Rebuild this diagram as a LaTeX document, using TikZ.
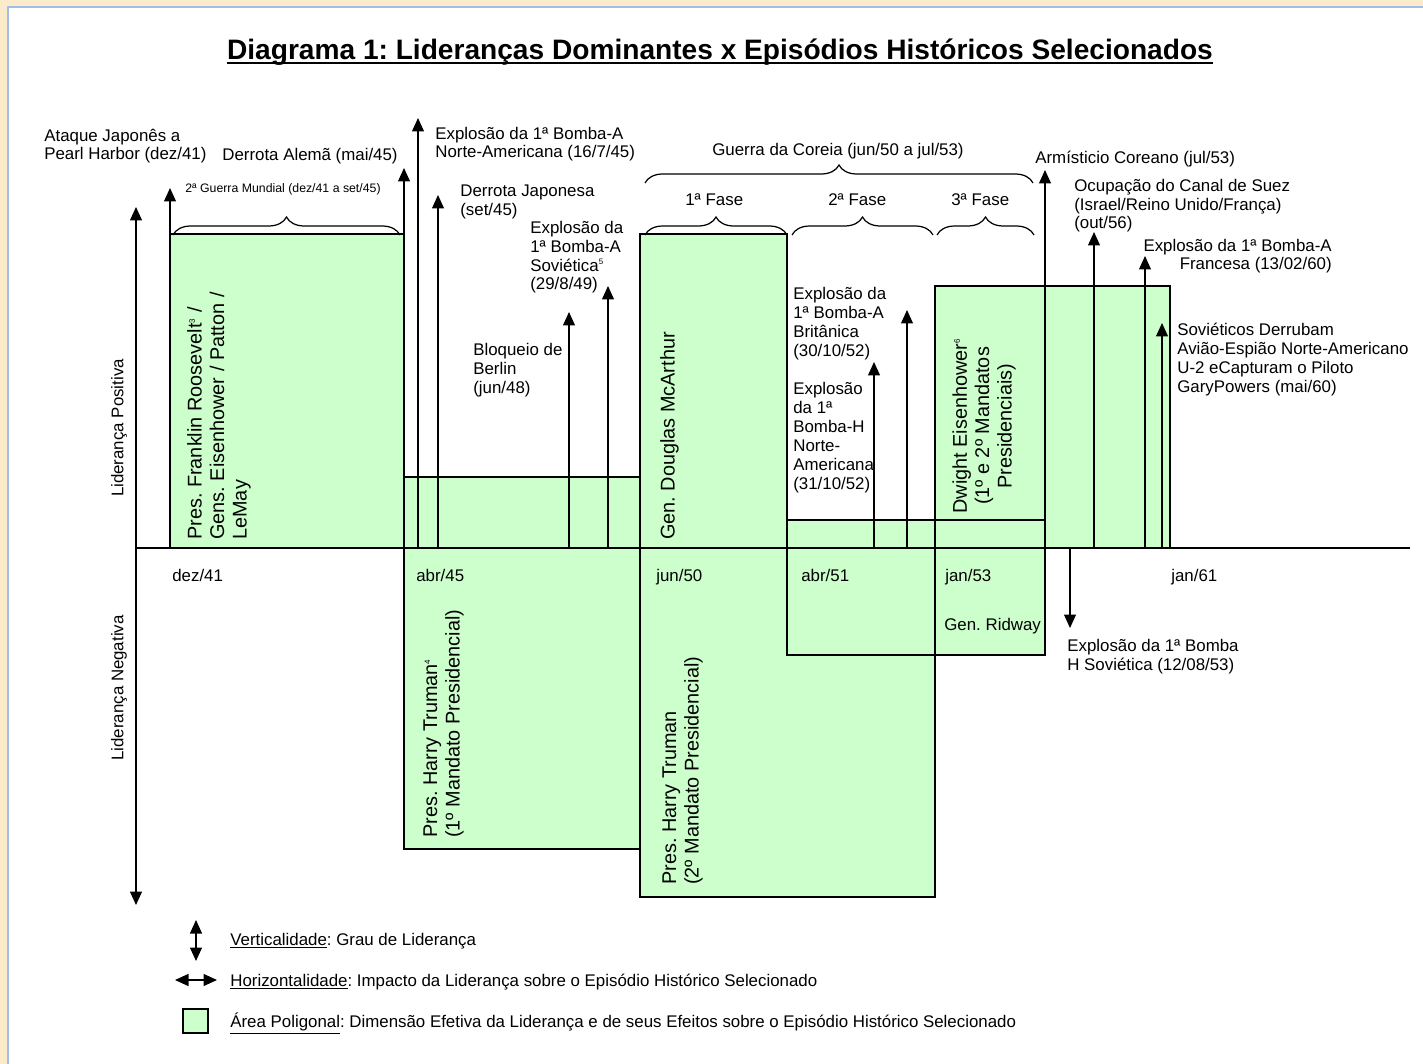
\documentclass[tikz,border=0pt]{standalone}
\usepackage{fontspec}
\setmainfont{Liberation Sans}
\usepackage{tikz}
\usetikzlibrary{arrows.meta,decorations.pathreplacing}
\usepackage{xcolor}
\definecolor{leadgreen}{HTML}{CCFFCC}
\definecolor{framecream}{HTML}{FCEBCB}
\definecolor{frameblue}{HTML}{A3BDEB}
\newcommand{\refmark}[1]{\textsuperscript{\fontsize{4.5}{5}\selectfont #1}}
\frenchspacing

\begin{document}
\begin{tikzpicture}[
    x=0.02cm, y=-0.02cm,
    >={Triangle[width=0.24cm,length=0.27cm]},
    area/.style={fill=leadgreen},
    boxline/.style={draw, line width=0.7pt},
    arrow/.style={->, line width=0.7pt},
    evt/.style={font=\fontsize{9.6}{10.8}\selectfont, align=left, inner sep=0pt, anchor=base west},
    tick/.style={font=\fontsize{9.6}{10.8}\selectfont, inner sep=0pt, anchor=base west},
    leader/.style={font=\fontsize{11.3}{12.8}\selectfont, align=left, inner sep=0pt, rotate=90, anchor=north west},
    period/.style={decorate, decoration={brace, amplitude=0.36cm}, line width=0.7pt},
    legtext/.style={font=\fontsize{9.6}{10.8}\selectfont, inner sep=0pt, anchor=base west}
]
\useasboundingbox (0,0) rectangle (1423,1064);

% ---- Frame ----
\fill[framecream] (0,0) rectangle (1423,1064);
\fill[white] (8,7) rectangle (1423,1064);
\draw[frameblue, line width=1pt] (8,1064) -- (8,7) -- (1423,7);

% ---- Title ----
\node[font=\bfseries\fontsize{16}{19}\selectfont, inner sep=0pt, anchor=base] (title) at (720,60)
    {Diagrama 1: Lideranças Dominantes x Episódios Históricos Selecionados};
\draw[line width=0.8pt] ([yshift=-1.6pt]title.base west) -- ([yshift=-1.6pt]title.base east);

% ---- Leadership areas (fill first, borders after) ----
\fill[area] (170,234) rectangle (404,548);  % Roosevelt
\fill[area] (404,477) rectangle (640,849);  % Truman 1
\fill[area] (640,234) rectangle (787,548);  % McArthur
\fill[area] (640,548) rectangle (935,897);  % Truman 2
\fill[area] (787,520) rectangle (1045,655); % Ridway
\fill[area] (935,286) rectangle (1170,548); % Eisenhower
\draw[boxline] (170,234) rectangle (404,548);
\draw[boxline] (404,477) rectangle (640,849);
\draw[boxline] (640,234) rectangle (787,548);
\draw[boxline] (640,548) rectangle (935,897);
\draw[boxline] (787,520) rectangle (1045,655);
\draw[boxline] (935,286) rectangle (1170,548);

% ---- Axes ----
\coordinate (origin) at (136,548);
\coordinate (xend) at (1410,548);
\coordinate (ytop) at (136,207);
\coordinate (ybot) at (136,905);
\draw[boxline] (origin) -- (xend);
\draw[arrow, <->] (ytop) -- (ybot);
\node[tick, rotate=90, anchor=center] (pos) at (119,428) {Liderança Positiva};
\node[tick, rotate=90, anchor=center] (neg) at (119,688) {Liderança Negativa};

% ---- Dates ----
\node[tick] (d41) at (172,581) {dez/41};
\node[tick] (d45) at (416,581) {abr/45};
\node[tick] (d50) at (656,581) {jun/50};
\node[tick] (d51) at (801,581) {abr/51};
\node[tick] (d53) at (945,581) {jan/53};
\node[tick] (d61) at (1171,581) {jan/61};

% ---- Event arrows ----
\coordinate (pearl-b) at (170,548);  \coordinate (pearl-t) at (170,188);
\coordinate (alema-b) at (404,548);  \coordinate (alema-t) at (404,168);
\coordinate (bna-b) at (418,548);    \coordinate (bna-t) at (418,118);
\coordinate (jap-b) at (438,548);    \coordinate (jap-t) at (438,195);
\coordinate (berlin-b) at (569,548); \coordinate (berlin-t) at (569,312);
\coordinate (sova-b) at (608,548);   \coordinate (sova-t) at (608,286);
\coordinate (hbomb-b) at (874,548);  \coordinate (hbomb-t) at (874,362);
\coordinate (brit-b) at (907,548);   \coordinate (brit-t) at (907,310);
\coordinate (armis-b) at (1045,548); \coordinate (armis-t) at (1045,170);
\coordinate (sovh-b) at (1070,548);  \coordinate (sovh-t) at (1070,628);
\coordinate (suez-b) at (1094,548);  \coordinate (suez-t) at (1094,232);
\coordinate (fran-b) at (1145,548);  \coordinate (fran-t) at (1145,256);
\coordinate (u2-b) at (1162,548);    \coordinate (u2-t) at (1162,323);
\draw[arrow] (pearl-b) -- (pearl-t);
\draw[arrow] (alema-b) -- (alema-t);
\draw[arrow] (bna-b) -- (bna-t);
\draw[arrow] (jap-b) -- (jap-t);
\draw[arrow] (berlin-b) -- (berlin-t);
\draw[arrow] (sova-b) -- (sova-t);
\draw[arrow] (hbomb-b) -- (hbomb-t);
\draw[arrow] (brit-b) -- (brit-t);
\draw[arrow] (armis-b) -- (armis-t);
\draw[arrow] (sovh-b) -- (sovh-t);
\draw[arrow] (suez-b) -- (suez-t);
\draw[arrow] (fran-b) -- (fran-t);
\draw[arrow] (u2-b) -- (u2-t);

% ---- Periods ----
\draw[period] (173,235) -- (400,235);
\draw[period] (645,183) -- (1033,183);
\draw[period] (645,235) -- (787,235);
\draw[period] (792,235) -- (933,235);
\draw[period] (937,235) -- (1034,235);
\node[evt, font=\fontsize{7}{8}\selectfont] (ww2) at (185,193) {2ª Guerra Mundial (dez/41 a set/45)};
\node[evt] (korea) at (712,156) {Guerra da Coreia (jun/50 a jul/53)};
\node[evt] (fase1) at (685,206) {1ª Fase};
\node[evt] (fase2) at (828,206) {2ª Fase};
\node[evt] (fase3) at (951,206) {3ª Fase};

% ---- Event labels (base = last line) ----
\node[evt] (pearl) at (44,160) {Ataque Japonês a\\Pearl Harbor (dez/41)};
\node[evt] (alema) at (222,161) {Derrota Alemã (mai/45)};
\node[evt] (bna) at (435,158) {Explosão da 1ª Bomba-A\\Norte-Americana (16/7/45)};
\node[evt] (jap) at (460,215) {Derrota Japonesa\\(set/45)};
\node[evt] (sova) at (530,290) {Explosão da\\1ª Bomba-A\\Soviética\refmark{5}\\(29/8/49)};
\node[evt] (berlin) at (473,393) {Bloqueio de\\Berlin\\(jun/48)};
\node[evt] (brit) at (793,356) {Explosão da\\1ª Bomba-A\\Britânica\\(30/10/52)};
\node[evt] (hbomb) at (793,489) {Explosão\\da 1ª\\Bomba-H\\Norte-\\Americana\\(31/10/52)};
\node[evt] (armis) at (1035,164) {Armísticio Coreano (jul/53)};
\node[evt] (suez) at (1074,229) {Ocupação do Canal de Suez\\(Israel/Reino Unido/França)\\(out/56)};
\node[evt, align=right, anchor=base east] (fran) at (1332,270) {Explosão da 1ª Bomba-A\\Francesa (13/02/60)};
\node[evt] (u2) at (1177,392) {Soviéticos Derrubam\\Avião-Espião Norte-Americano\\U-2 eCapturam o Piloto\\GaryPowers (mai/60)};
\node[evt] (sovh) at (1067,670) {Explosão da 1ª Bomba\\H Soviética (12/08/53)};

% ---- Leaders ----
\node[leader] (roosevelt) at (187,540) {Pres. Franklin Roosevelt\refmark{3} /\\Gens. Eisenhower / Patton /\\LeMay};
\node[leader] (truman1) at (423,838) {Pres. Harry Truman\refmark{4}\\(1º Mandato Presidencial)};
\node[leader] (mcarthur) at (660,540) {Gen. Douglas McArthur};
\node[leader] (truman2) at (662,885) {Pres. Harry Truman\\(2º Mandato Presidencial)};
\node[leader, align=center, anchor=north] (eisen) at (952,426) {Dwight Eisenhower\refmark{6}\\(1º e 2º Mandatos\\Presidenciais)};
\node[evt] (ridway) at (944,630) {Gen. Ridway};

% ---- Legend ----
\coordinate (vleg-t) at (196,920); \coordinate (vleg-b) at (196,961);
\coordinate (hleg-l) at (175,980); \coordinate (hleg-r) at (217,980);
\draw[arrow, <->] (vleg-t) -- (vleg-b);
\draw[arrow, <->] (hleg-l) -- (hleg-r);
\draw[boxline, area] (183,1009) rectangle (208,1033);
\node[legtext] (leg1) at (230,945) {\underline{Verticalidade}: Grau de Liderança};
\node[legtext] (leg2) at (230,986) {\underline{Horizontalidade}: Impacto da Liderança sobre o Episódio Histórico Selecionado};
\node[legtext] (leg3) at (230,1027) {\underline{Área Poligonal}: Dimensão Efetiva da Liderança e de seus Efeitos sobre o Episódio Histórico Selecionado};

\end{tikzpicture}
\end{document}
